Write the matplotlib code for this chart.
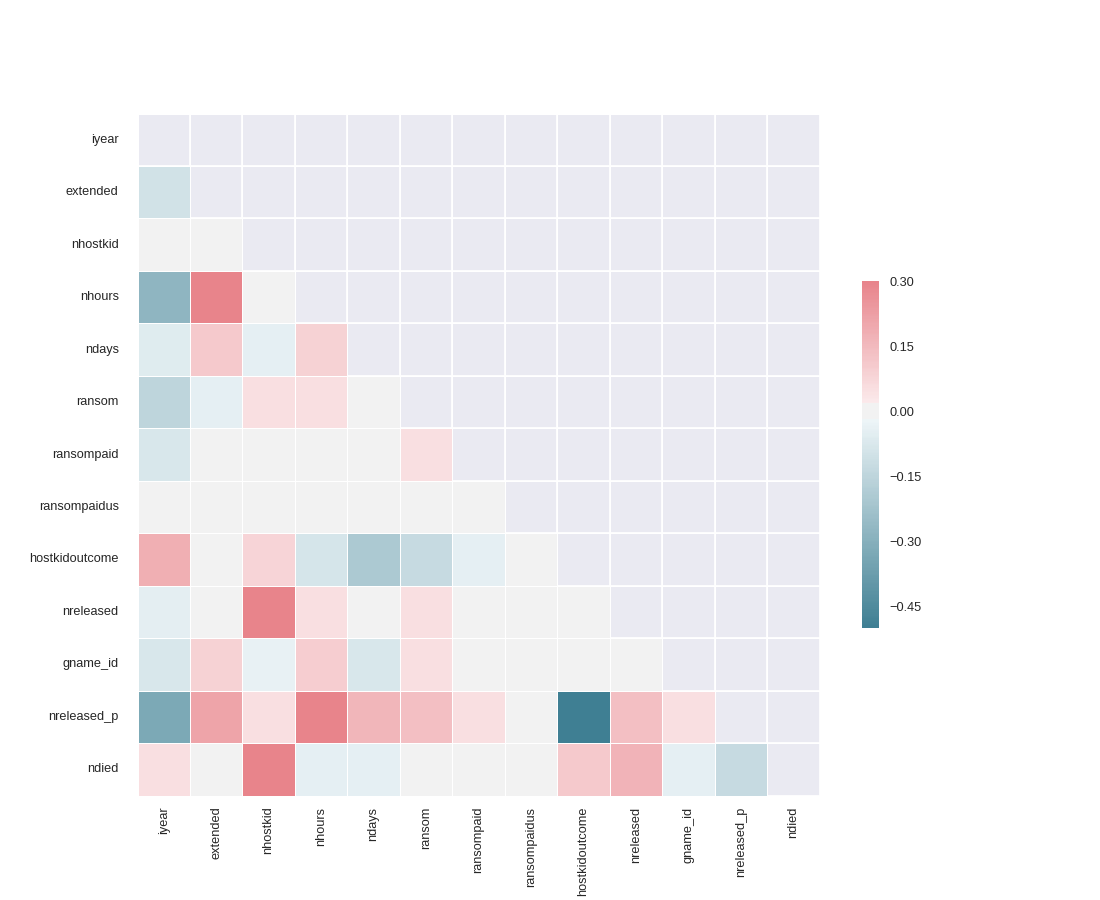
"""Masked lower-triangle correlation heatmap of hostage/kidnapping variables."""

import colorsys

import matplotlib

matplotlib.use("Agg")
import matplotlib.pyplot as plt
from matplotlib.colors import LinearSegmentedColormap
from matplotlib.ticker import FuncFormatter, MultipleLocator
import numpy as np
import seaborn as sns
from seaborn.external import husl

labels = ["iyear", "extended", "nhostkid", "nhours", "ndays", "ransom",
          "ransompaid", "ransompaidus", "hostkidoutcome", "nreleased",
          "gname_id", "nreleased_p", "ndied"]

# Lower-triangle correlations, one list per row (columns left of the diagonal).
r_extended = [-0.10]
r_nhostkid = [0.00, 0.00]
r_nhours = [-0.28, 0.32, 0.00]
r_ndays = [-0.06, 0.11, -0.045, 0.09]
r_ransom = [-0.15, -0.045, 0.05, 0.05, 0.00]
r_ransompaid = [-0.08, 0.00, 0.00, 0.00, 0.00, 0.05]
r_ransompaidus = [0.00, 0.00, 0.00, 0.00, 0.00, 0.00, 0.00]
r_hostkidoutcome = [0.18, 0.00, 0.08, -0.09, -0.20, -0.13, -0.045, 0.00]
r_nreleased = [-0.05, 0.00, 0.35, 0.05, 0.00, 0.05, 0.00, 0.00, 0.00]
r_gname_id = [-0.08, 0.085, -0.04, 0.10, -0.08, 0.05, 0.00, 0.00, 0.00, 0.00]
r_nreleased_p = [-0.33, 0.21, 0.05, 0.31, 0.16, 0.14, 0.05, 0.00, -0.50,
                 0.14, 0.05]
r_ndied = [0.05, 0.00, 0.33, -0.045, -0.045, 0.00, 0.00, 0.00, 0.11, 0.17,
           -0.045, -0.13]

rows = [r_extended, r_nhostkid, r_nhours, r_ndays, r_ransom, r_ransompaid,
        r_ransompaidus, r_hostkidoutcome, r_nreleased, r_gname_id,
        r_nreleased_p, r_ndied]

# Build the full symmetric matrix from the lower triangle.
n = len(labels)
corr = np.eye(n)
for i, row in enumerate(rows, start=1):
    for j, v in enumerate(row):
        corr[i, j] = corr[j, i] = v
mask = np.triu(np.ones_like(corr, dtype=bool))


def old_light_ramp(hue, count):
    """Ramp from a light tint (HLS l=.95) to the husl colour, old seaborn way."""
    dark = husl.husl_to_rgb(hue, 75, 50)
    h, _, s = colorsys.rgb_to_hls(*dark)
    light = colorsys.hls_to_rgb(h, .95, s)
    return sns.blend_palette([light, dark], count)


# diverging_palette(220, 10, sep=10) as older seaborn built it
neg = old_light_ramp(220, 123)[::-1]
pos = old_light_ramp(10, 123)
mid = [(.95, .95, .95)] * 10
cmap = LinearSegmentedColormap.from_list("div", list(neg) + mid + list(pos))

sns.set_style("darkgrid")
plt.rcParams["font.family"] = ["Liberation Sans", "DejaVu Sans"]

f, ax = plt.subplots(figsize=(11, 9))
fmt = FuncFormatter(lambda v, _: f"{v:.2f}".replace("-", "\u2212"))
sns.heatmap(corr, mask=mask, cmap=cmap, vmax=.3, center=0, square=True,
            linewidths=.5,
            cbar_kws={"shrink": .5, "ticks": MultipleLocator(0.15),
                      "format": fmt},
            xticklabels=labels, yticklabels=labels, ax=ax)

# White grid on the cell borders, visible in the masked triangle.
ax.grid(False)
ax.set_xticks(np.arange(n + 1), minor=True)
ax.set_yticks(np.arange(n + 1), minor=True)
ax.grid(True, which="minor", color="white", linewidth=1.3)
ax.set_axisbelow(True)

ax.tick_params(labelsize=9.2, colors="#262626", length=0)
ax.tick_params(axis="x", pad=8)
ax.tick_params(axis="y", pad=13.5)
ax.tick_params(which="minor", length=0)
ax.collections[0].colorbar.ax.tick_params(labelsize=9.2, colors="#262626",
                                          length=0, pad=7.5)
plt.savefig("out.png", dpi=100)
